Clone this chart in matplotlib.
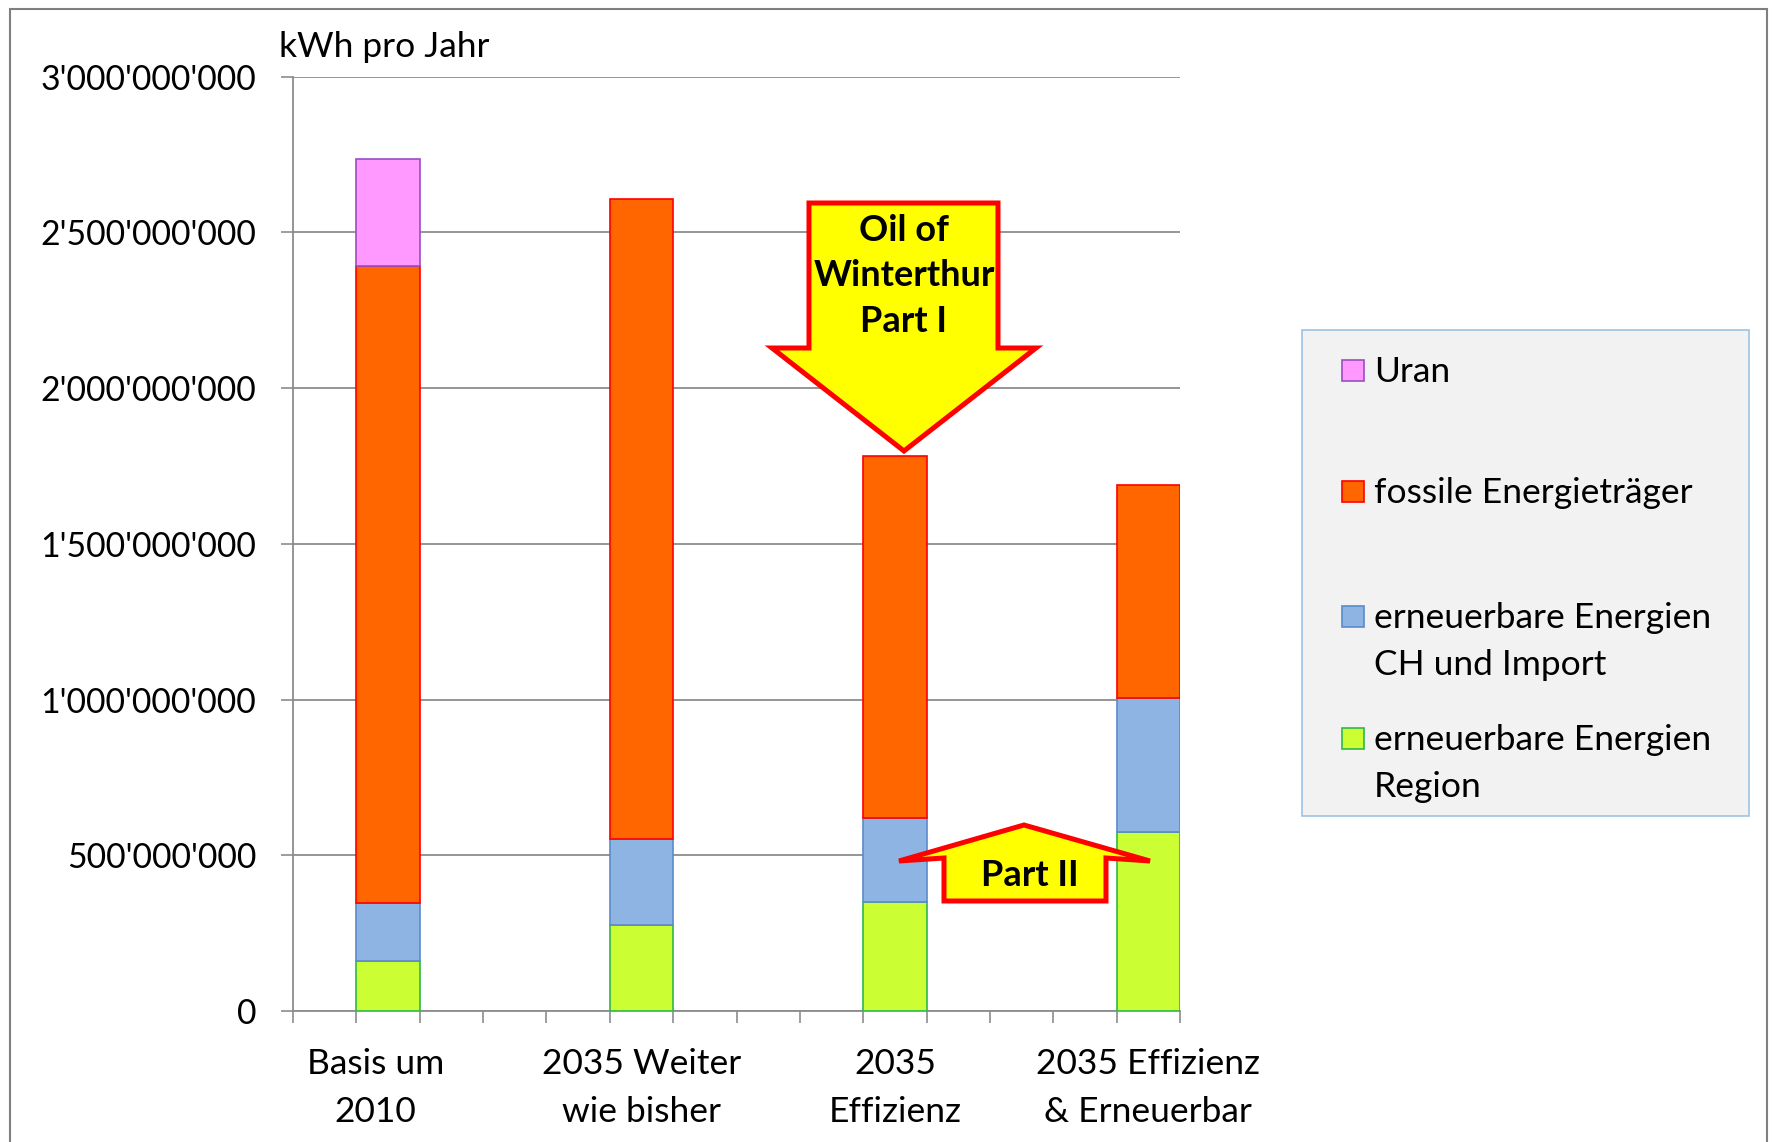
import matplotlib
matplotlib.use("Agg")
import matplotlib.pyplot as plt
from matplotlib.patches import Polygon, Rectangle
from matplotlib.ticker import FuncFormatter

# ---------------- data ----------------
categories = ["Basis um\n2010", "2035 Weiter\nwie bisher", "2035\nEffizienz", "2035 Effizienz\n& Erneuerbar"]
series_names = ["Uran", "fossile Energieträger", "erneuerbare Energien\nCH und Import", "erneuerbare Energien\nRegion"]
region = [0.160e9, 0.276e9, 0.351e9, 0.576e9]
ch_import = [0.188e9, 0.275e9, 0.270e9, 0.429e9]
fossil = [2.044e9, 2.057e9, 1.161e9, 0.685e9]
uran = [0.345e9, 0.0, 0.0, 0.0]
y_ticks = [0, 500e6, 1000e6, 1500e6, 2000e6, 2500e6, 3000e6]
y_label = "kWh pro Jahr"
arrow1_text = "Oil of\nWinterthur\nPart I"
arrow2_text = "Part II"

# ---------------- layout ----------------
W, H = 1772, 1142
DPI = 100
plt.rcParams['font.family'] = ['Lato', 'DejaVu Sans']
FS = 25.5
FS_Y = 24.3

def fx(x):
    return x / W

def fy(y):
    return 1 - y / H

fig = plt.figure(figsize=(W / DPI, H / DPI), dpi=DPI)
fig.patch.set_facecolor("white")

ax_l, ax_r, ax_t, ax_b = 293, 1180, 76.7, 1011
ax = fig.add_axes([fx(ax_l), fy(ax_b), (ax_r - ax_l) / W, (ax_b - ax_t) / H])

grid_c = "#8C8C8C"
slots = 14
bar_pos = [1.5, 5.5, 9.5, 13.5]
label_pos = [1.3, 5.5, 9.5, 13.5]

colors = {
    "region": ("#CCFF33", "#2DB84D"),
    "ch": ("#8EB4E3", "#5B8BC9"),
    "fossil": ("#FF6600", "#FF0000"),
    "uran": ("#FF99FF", "#9A4EC4"),
}

bottom = [0.0] * 4
stack = [("region", region), ("ch", ch_import), ("fossil", fossil), ("uran", uran)]
for key, vals in stack:
    fc, ec = colors[key]
    xs = [p for p, v in zip(bar_pos, vals) if v > 0]
    hs = [v for v in vals if v > 0]
    bs = [b for b, v in zip(bottom, vals) if v > 0]
    ax.bar(xs, hs, width=1.0, bottom=bs, color=fc, edgecolor=ec,
           linewidth=1.2, zorder=3)
    bottom = [b + v for b, v in zip(bottom, vals)]

ax.set_xlim(0, slots)
ax.set_ylim(0, 3e9)
ax.set_yticks(y_ticks)
ax.yaxis.set_major_formatter(FuncFormatter(lambda v, p: "{:,}".format(int(round(v))).replace(",", "'")))
ax.grid(axis="y", color=grid_c, linewidth=1.3, zorder=0)
ax.set_axisbelow(True)

ax.set_xticks(range(slots + 1))
ax.set_xticklabels([""] * (slots + 1))
ax.set_xticks(label_pos, minor=True)
ax.set_xticklabels(categories, minor=True, fontsize=FS, linespacing=1.58)
ax.tick_params(axis="x", which="major", length=8.6, width=1.2, color=grid_c, direction="out")
ax.tick_params(axis="x", which="minor", length=0, pad=27)
ax.tick_params(axis="y", length=8.6, width=1.2, color=grid_c, pad=18, labelsize=FS_Y)

for s in ["top", "right"]:
    ax.spines[s].set_visible(False)
for s in ["left", "bottom"]:
    ax.spines[s].set_color(grid_c)
    ax.spines[s].set_linewidth(1.3)

fig.text(fx(279), fy(47), y_label, fontsize=FS, ha="left", va="center")

# outer chart frame
fig.patches.append(Rectangle((fx(10), fy(1160)), fx(1767) - fx(10), fy(9) - fy(1160),
                             transform=fig.transFigure, fill=False, edgecolor="#7F7F7F",
                             linewidth=1.5, zorder=0))

# legend box
fig.patches.append(Rectangle((fx(1302), fy(816)), fx(1749) - fx(1302), fy(330) - fy(816),
                             transform=fig.transFigure, facecolor="#F2F2F2", edgecolor="#9DC3E6",
                             linewidth=1.2, zorder=1))
leg_keys = ["uran", "fossil", "ch", "region"]
leg_base = [382, 503, 628, 750]
line_gap = 47
for key, name, yb in zip(leg_keys, series_names, leg_base):
    fc, ec = colors[key]
    fig.patches.append(Rectangle((fx(1342), fy(yb - 1)), 22 / W, 21 / H,
                                 transform=fig.transFigure, facecolor=fc, edgecolor=ec,
                                 linewidth=1.2, zorder=2))
    for i, line in enumerate(name.split("\n")):
        fig.text(fx(1374), fy(yb + i * line_gap), line, fontsize=FS, ha="left",
                 va="baseline", zorder=3)

# big down arrow (Part I)
a1 = [(809, 203), (998, 203), (998, 348), (1036, 348), (904, 451), (772, 348), (809, 348)]
fig.patches.append(Polygon([(fx(x), fy(y)) for x, y in a1], closed=True, transform=fig.transFigure,
                           facecolor="#FFFF00", edgecolor="#FF0000", linewidth=3.6,
                           joinstyle="miter", zorder=5))
fig.text(fx(904), fy(276), arrow1_text, fontsize=26, fontweight="bold", ha="center", va="center",
         linespacing=1.48, zorder=6)

# up arrow (Part II)
a2 = [(1024, 825), (1150, 861), (1106, 858), (1106, 901), (944, 901), (944, 858), (899, 861)]
fig.patches.append(Polygon([(fx(x), fy(y)) for x, y in a2], closed=True, transform=fig.transFigure,
                           facecolor="#FFFF00", edgecolor="#FF0000", linewidth=3.6,
                           joinstyle="miter", zorder=5))
fig.text(fx(1030), fy(875), arrow2_text, fontsize=26, fontweight="bold", ha="center", va="center",
         zorder=6)

fig.savefig("out.png", dpi=DPI)
